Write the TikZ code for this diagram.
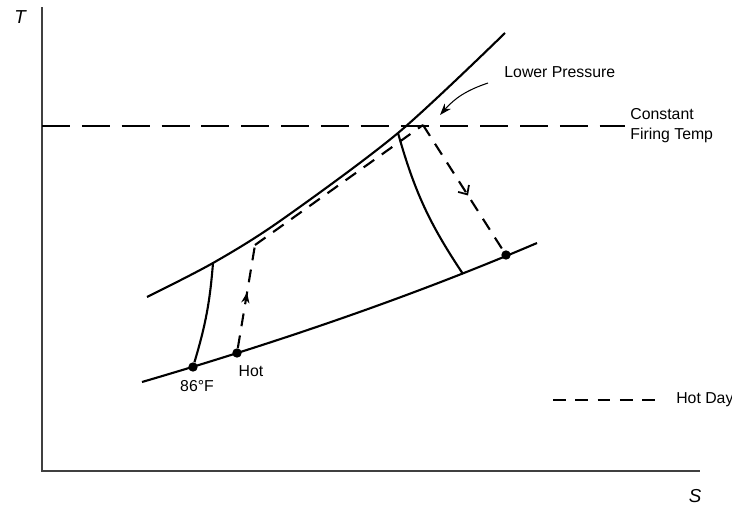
\documentclass[tikz,border=0pt]{standalone}
\usepackage{fontspec}
\setmainfont{Liberation Sans}
\usetikzlibrary{positioning,arrows.meta,decorations.markings}

\begin{document}
\begin{tikzpicture}[x=0.03cm, y=-0.03cm, every node/.style={font=\fontsize{13.5}{17}\selectfont, inner sep=1pt},
    curve/.style={line width=1.8pt},
    hot/.style={line width=1.8pt, dash pattern=on 11pt off 8pt},
    dot/.style={circle, fill, inner sep=0pt, minimum size=8pt},
    midarrow/.style 2 args={postaction={decorate}, decoration={markings, mark=at position #1 with {\arrow{#2}}}}]
            \useasboundingbox (0,0) rectangle (732,505);
            % axes
            \coordinate (ytop) at (42,7);
            \coordinate (o) at (42,471);
            \coordinate (xend) at (700,471);
            \draw[line width=1.2pt, black!75] (ytop) -- (o) -- (xend);
            \node[font=\fontsize{16}{16}\selectfont\itshape] (tlab) at (20,17) {T};
            \node[font=\fontsize{16}{16}\selectfont\itshape] (slab) at (695,496) {S};
            % isobars
            \coordinate (u0) at (147,297);
            \coordinate (u1) at (213,263);
            \coordinate (u2) at (280,221);
            \coordinate (u3) at (398,133);
            \coordinate (u4) at (505,33);
            \coordinate (l0) at (142,382);
            \coordinate (l1) at (193,367);
            \coordinate (l2) at (237,353);
            \coordinate (l4) at (463,274);
            \coordinate (l5) at (537,243);
            \draw[curve] plot[smooth] coordinates {(u0) (u1) (u2) (u3) (u4)};
            \draw[curve] (l0) .. controls (289,339) and (420,293) .. (l5);
            % firing temperature
            \coordinate (f0) at (42,126);
            \coordinate (f1) at (625,126);
            \draw[curve, dash pattern=on 24pt off 10pt] (f0) -- (f1);
            % state points
            \node[dot] (p86) at (l1) {};
            \node[dot] (phot) at (l2) {};
            \node[dot] (pend) at (506,255) {};
            \coordinate (h2) at (255,245);
            \coordinate (ftop) at (423,125);
            % base cycle
            \draw[curve] (p86) to[bend right=6] (u1);
            \draw[curve] (u3) to[bend right=9] (l4);
            % hot day cycle
            \draw[hot, midarrow={0.54}{Stealth[length=9pt, width=7pt]}] (phot) -- (h2);
            \draw[hot] (h2) -- (ftop);
            \draw[hot, midarrow={0.56}{Straight Barb[length=6pt, width=11pt, line width=1.5pt]}] (ftop) -- (pend);
            % labels
            \node[anchor=west] (lowp) at (503,72) {Lower Pressure};
            \coordinate (lp1) at (488,83);
            \coordinate (lp2) at (440,115);
            \draw[line width=0.9pt, -{Stealth[length=10pt, width=7pt]}] (lp1) to[bend right=15] (lp2);
            \node[anchor=west, align=left] (firing) at (629,126) {Constant\\Firing Temp};
            \node (t86) at (197,386) {86°F};
            \node (thot) at (251,371) {Hot};
            % legend
            \coordinate (k0) at (553,400);
            \coordinate (k1) at (662,400);
            \draw[hot] (k0) -- (k1);
            \node[right=11pt of k1] (hotday) {Hot Day};
        \end{tikzpicture}
\end{document}
